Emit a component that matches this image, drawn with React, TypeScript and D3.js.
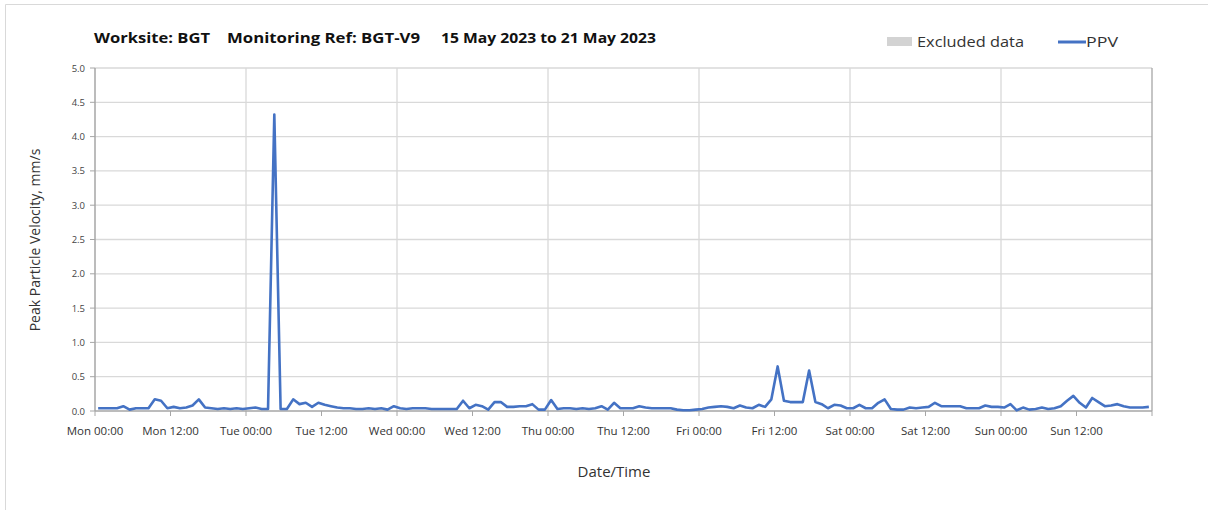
import React from "react";
import * as d3 from "d3";

const monday = [0.04,0.04,0.04,0.04,0.07,0.02,0.04,0.04,0.04,0.17,0.15,0.04,0.06,0.04,0.05,0.08,0.17,0.05,0.04,0.03,0.04,0.03,0.04,0.03];
const tuesday = [0.04,0.05,0.03,0.03,4.32,0.03,0.03,0.17,0.10,0.12,0.06,0.12,0.09,0.07,0.05,0.04,0.04,0.03,0.03,0.04,0.03,0.04,0.02,0.07];
const wednesday = [0.04,0.03,0.04,0.04,0.04,0.03,0.03,0.03,0.03,0.03,0.15,0.04,0.09,0.07,0.02,0.13,0.13,0.06,0.06,0.07,0.07,0.10,0.02,0.02];
const thursday = [0.16,0.03,0.04,0.04,0.03,0.04,0.03,0.04,0.07,0.02,0.12,0.04,0.04,0.04,0.07,0.05,0.04,0.04,0.04,0.04,0.02,0.01,0.01,0.02];
const friday = [0.03,0.05,0.06,0.07,0.06,0.04,0.08,0.05,0.04,0.09,0.06,0.17,0.65,0.15,0.13,0.13,0.13,0.59,0.13,0.10,0.04,0.09,0.08,0.04];
const saturday = [0.04,0.09,0.04,0.04,0.12,0.17,0.03,0.02,0.02,0.05,0.04,0.05,0.06,0.12,0.07,0.07,0.07,0.07,0.04,0.04,0.04,0.08,0.06,0.06];
const sunday = [0.05,0.10,0.01,0.05,0.02,0.03,0.05,0.03,0.04,0.07,0.15,0.22,0.12,0.05,0.19,0.13,0.07,0.08,0.10,0.07,0.05,0.05,0.05,0.06];

const dayNames = ["Mon", "Tue", "Wed", "Thu", "Fri", "Sat", "Sun"];
const yTicks = [0, 0.5, 1, 1.5, 2, 2.5, 3, 3.5, 4, 4.5, 5];
const titleParts = ["Worksite: BGT", "Monitoring Ref: BGT-V9", "15 May 2023 to 21 May 2023"];

const ppv = [...monday, ...tuesday, ...wednesday, ...thursday, ...friday, ...saturday, ...sunday];

export default function App() {
  const W = 1208, H = 510;
  const left = 95, right = 1152, top = 68, bottom = 411;
  const x = d3.scaleLinear().domain([0, 168]).range([left, right]);
  const y = d3.scaleLinear().domain([0, 5]).range([bottom, top]);
  const line = d3.line<number>().x((_, i) => x(i + 0.5)).y((d) => y(d));
  const tickHours = d3.range(0, 169, 12);
  const dayHours = d3.range(0, 169, 24);
  const font = "'Open Sans', 'Noto Sans', sans-serif";
  const titleX = [[94, 116], [227, 193], [441, 215]];
  return (
    <svg width={W} height={H} style={{ position: "absolute", left: 0, top: 0, display: "block", background: "#fff" }} fontFamily={font}>
      <line x1={5.5} y1={4.5} x2={W} y2={4.5} stroke="#d9d9d9" />
      <line x1={5.5} y1={4.5} x2={5.5} y2={H} stroke="#d9d9d9" />
      {titleParts.map((t, i) => (
        <text key={t} x={titleX[i][0]} y={43} fontSize={14.5} fontWeight="bold" fill="#111"
          textLength={titleX[i][1]} lengthAdjust="spacingAndGlyphs">{t}</text>
      ))}
      {/* legend */}
      <rect x={887} y={37} width={25} height={9} fill="#d3d3d3" />
      <text x={917} y={47} fontSize={14.5} fill="#333" textLength={107} lengthAdjust="spacingAndGlyphs">Excluded data</text>
      <line x1={1058} y1={42} x2={1086} y2={42} stroke="#4472C4" strokeWidth={3} />
      <text x={1086} y={47} fontSize={14.5} fill="#333" textLength={32} lengthAdjust="spacingAndGlyphs">PPV</text>
      {/* grid */}
      {yTicks.filter((v) => v > 0).map((v) => (
        <line key={v} x1={left} x2={right} y1={y(v)} y2={y(v)} stroke="#d9d9d9" strokeWidth={1.3} />
      ))}
      {dayHours.slice(1, -1).map((h) => (
        <line key={h} x1={x(h)} x2={x(h)} y1={top} y2={bottom} stroke="#d9d9d9" strokeWidth={1.3} />
      ))}
      <line x1={right} x2={right} y1={top} y2={bottom} stroke="#a6a6a6" strokeWidth={1.3} />
      {/* axes */}
      <line x1={left} x2={left} y1={top} y2={bottom} stroke="#a6a6a6" strokeWidth={1.5} />
      <line x1={left} x2={right} y1={bottom} y2={bottom} stroke="#a6a6a6" strokeWidth={1.5} />
      {yTicks.map((v) => (
        <g key={v}>
          <line x1={left - 5} x2={left} y1={y(v)} y2={y(v)} stroke="#a6a6a6" />
          <text x={left - 10} y={y(v) + 3.5} fontSize={9.5} fill="#444" textAnchor="end">{v.toFixed(1)}</text>
        </g>
      ))}
      {tickHours.map((h) => (
        <g key={h}>
          <line x1={x(h)} x2={x(h)} y1={bottom} y2={bottom + 5} stroke="#a6a6a6" />
          {h < 168 && (
            <text x={x(h)} y={435} fontSize={11.5} fill="#333" textAnchor="middle">
              {`${dayNames[Math.floor(h / 24)]} ${h % 24 === 0 ? "00:00" : "12:00"}`}
            </text>
          )}
        </g>
      ))}
      <text transform={`translate(40,240) rotate(-90)`} fontSize={14} fill="#333" textAnchor="middle">Peak Particle Velocity, mm/s</text>
      <text x={614} y={477} fontSize={15} fill="#333" textAnchor="middle">Date/Time</text>
      <path d={line(ppv) || ""} fill="none" stroke="#4472C4" strokeWidth={2.6} strokeLinejoin="round" />
    </svg>
  );
}
